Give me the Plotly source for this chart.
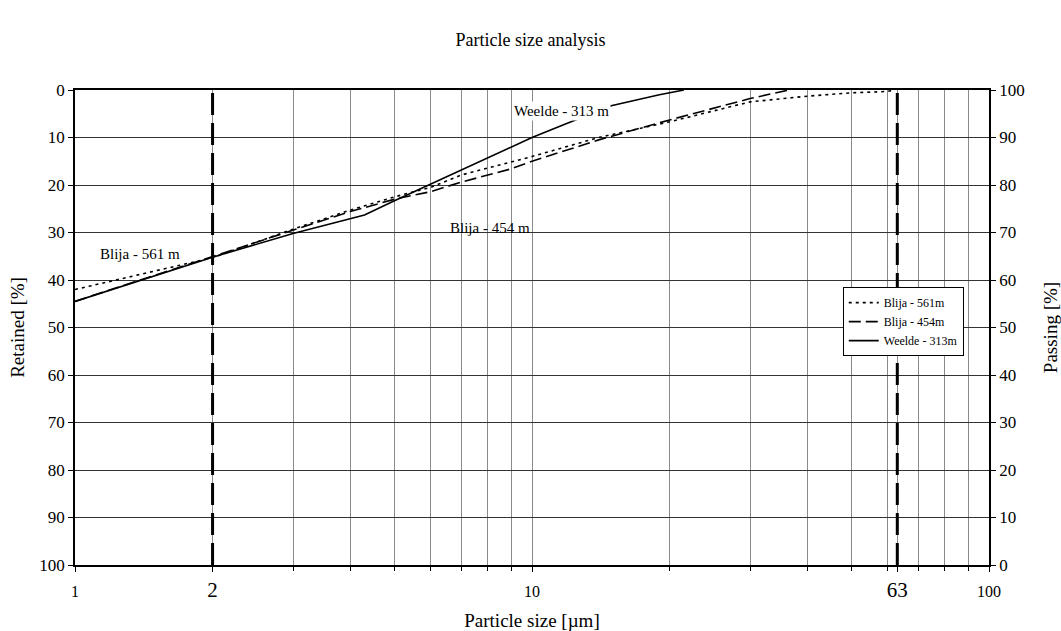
import math
import plotly.graph_objects as go

# Cumulative retained percentage against particle size (µm)
size_561 = [1, 2, 3, 4, 5, 6, 7, 8, 10, 14, 20, 30, 40, 50, 60, 62]
ret_561 = [42, 35.3, 29.3, 25.3, 22.5, 20.5, 17.9, 16.5, 14, 10, 6.7, 2.5, 1.3, 0.6, 0.3, 0]

size_454 = [1, 2, 3, 4, 5, 6, 7, 8, 9, 10, 14, 20, 30, 36.5]
ret_454 = [44.5, 35, 29.5, 25.6, 23, 21.4, 19.4, 17.9, 16.6, 15, 10.5, 6.3, 1.8, 0]

size_313 = [1, 2, 3, 4.3, 5, 6, 10, 11.8, 14.9, 19, 21.5]
ret_313 = [44.5, 35.2, 30.2, 26.3, 23.3, 19.8, 10, 7.2, 3.3, 1.0, 0]

# Clay / silt / sand boundaries
boundaries = [2, 63]

major_ticks = [1, 2, 10, 63, 100]
major_text = ["1", '<span style="font-size:21px">2</span>', "10",
              '<span style="font-size:21px">63</span>', "100"]
minor_ticks = [3, 4, 5, 6, 7, 8, 9, 20, 30, 40, 50, 60, 70, 80, 90]
pct_ticks = list(range(0, 101, 10))

FONT = "Liberation Serif"

fig = go.Figure()
fig.add_trace(go.Scatter(x=size_561, y=ret_561, mode="lines", name="Blija - 561m",
                         line=dict(color="black", width=1.6, dash="3px,4px")))
fig.add_trace(go.Scatter(x=size_454, y=ret_454, mode="lines", name="Blija - 454m",
                         line=dict(color="black", width=1.6, dash="12px,5px")))
fig.add_trace(go.Scatter(x=size_313, y=ret_313, mode="lines", name="Weelde - 313m",
                         line=dict(color="black", width=1.6)))
# Passing axis on the right
fig.add_trace(go.Scatter(x=[], y=[], yaxis="y2", showlegend=False, hoverinfo="skip"))

for b in boundaries:
    fig.add_shape(type="line", xref="x", yref="paper", x0=b, x1=b, y0=0, y1=1,
                  line=dict(color="black", width=3, dash="22px,8px"))

fig.add_annotation(x=math.log10(1.39), y=34.5, text="Blija - 561 m", showarrow=False,
                   font=dict(family=FONT, size=15, color="black"))
fig.add_annotation(x=math.log10(8.1), y=29, text="Blija - 454 m", showarrow=False,
                   font=dict(family=FONT, size=15, color="black"))
fig.add_annotation(x=math.log10(11.6), y=4.5, text="Weelde - 313 m", showarrow=False,
                   bgcolor="white", font=dict(family=FONT, size=15, color="black"))

fig.update_layout(
    width=1061, height=631,
    margin=dict(l=75, r=72, t=90, b=66),
    paper_bgcolor="white", plot_bgcolor="white",
    font=dict(family=FONT, color="black", size=17),
    title=dict(text="Particle size analysis", x=0.5, xanchor="center",
               y=1 - 40 / 631, yanchor="middle", font=dict(size=18)),
    xaxis=dict(
        type="log", range=[0, 2], automargin=False,
        tickvals=major_ticks, ticktext=major_text,
        tickfont=dict(size=16),
        ticks="outside", ticklen=5, tickcolor="black",
        ticklabelstandoff=6,
        showline=True, linecolor="black", linewidth=1.5, mirror=True,
        showgrid=True, gridcolor="#8a8a8a", gridwidth=1,
        minor=dict(tickvals=minor_ticks, ticks="outside", ticklen=4, tickcolor="black",
                   showgrid=True, gridcolor="#8a8a8a", gridwidth=1),
        title=dict(text="Particle size [µm]", font=dict(size=19), standoff=14),
        zeroline=False,
    ),
    yaxis=dict(
        range=[100, 0], tickvals=pct_ticks, automargin=False,
        ticks="outside", ticklen=5, tickcolor="black",
        showline=True, linecolor="black", linewidth=1.5,
        showgrid=True, gridcolor="#333333", gridwidth=1,
        title=dict(text="Retained [%]", font=dict(size=19), standoff=10),
        zeroline=False,
    ),
    yaxis2=dict(
        overlaying="y", side="right", range=[0, 100], tickvals=pct_ticks,
        automargin=False,
        ticks="outside", ticklen=5, tickcolor="black",
        showline=True, linecolor="black", linewidth=1.5,
        showgrid=False, zeroline=False,
        title=dict(text="Passing [%]", font=dict(size=19), standoff=20),
    ),
    legend=dict(
        x=0.840, y=0.585, xanchor="left", yanchor="top",
        bgcolor="white", bordercolor="black", borderwidth=1,
        font=dict(size=12), tracegroupgap=0, itemwidth=30,
    ),
    showlegend=True,
)

fig.write_html("out.html")
